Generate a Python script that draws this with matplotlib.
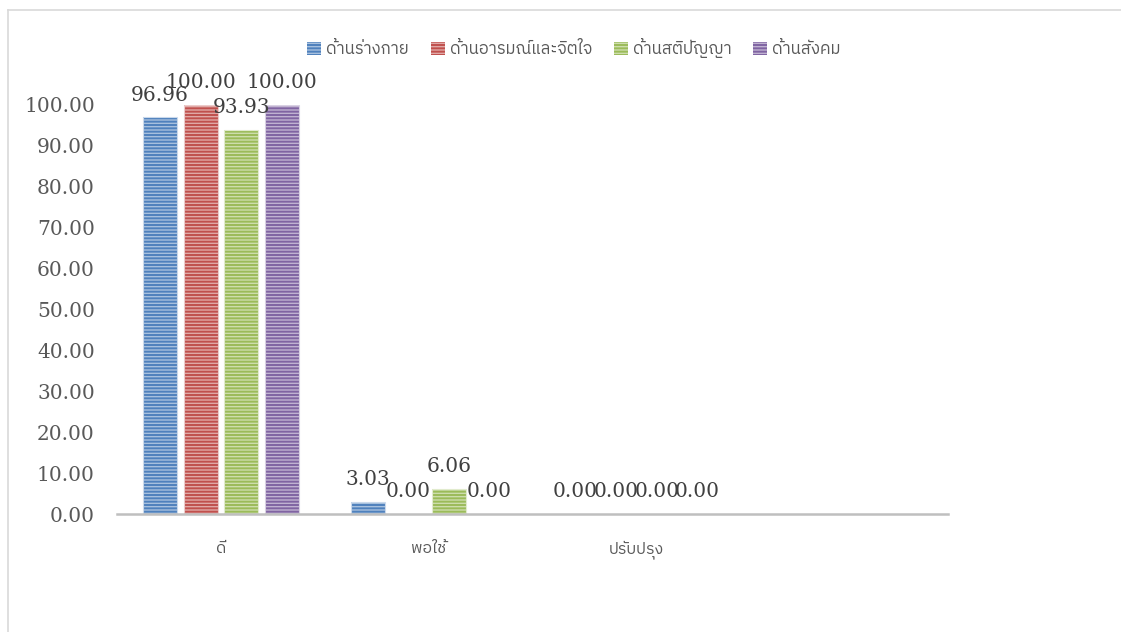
import matplotlib
matplotlib.use("Agg")
import matplotlib.pyplot as plt
from matplotlib import font_manager as fm
from matplotlib.patches import Patch
from matplotlib.lines import Line2D
import numpy as np

categories = ["ดี", "พอใช้", "ปรับปรุง", ""]
series_names = ["ด้านร่างกาย", "ด้านอารมณ์และจิตใจ", "ด้านสติปัญญา", "ด้านสังคม"]
values = {
    "ด้านร่างกาย": [96.96, 3.03, 0.00],
    "ด้านอารมณ์และจิตใจ": [100.00, 0.00, 0.00],
    "ด้านสติปัญญา": [93.93, 6.06, 0.00],
    "ด้านสังคม": [100.00, 0.00, 0.00],
}
yticks = [0, 10, 20, 30, 40, 50, 60, 70, 80, 90, 100]
colors = ["#4F81BD", "#C0504D", "#9BBB59", "#8064A2"]


def find_thai_font():
    try:
        from fontTools.ttLib import TTFont
    except Exception:
        TTFont = None
    seen = set()
    names = []
    for f in fm.fontManager.ttflist:
        if f.fname in seen:
            continue
        seen.add(f.fname)
        ok = False
        if TTFont is not None:
            try:
                tt = TTFont(f.fname, fontNumber=0, lazy=True)
                cmap = tt.getBestCmap()
                ok = cmap is not None and 0x0E14 in cmap and 0x0E49 in cmap
                tt.close()
            except Exception:
                ok = False
        else:
            ok = "thai" in f.name.lower()
        if ok:
            names.append(f.name)
    pref = [n for n in names if "sans" in n.lower()]
    if pref:
        return pref[0]
    return names[0] if names else None


thai = find_thai_font()
sans_family = ([thai] if thai else []) + ["DejaVu Sans"]

plt.rcParams["hatch.linewidth"] = 1.4

W, H = 1121, 632
fig = plt.figure(figsize=(W / 100, H / 100), dpi=100)
ax = fig.add_axes([117 / W, 1 - 514 / H, 831 / W, 409 / H])

x = np.arange(len(categories))
n = len(series_names)
step = 0.195
bw = 0.164
gray = "#595959"


def lighten(c, f):
    r, g, b = matplotlib.colors.to_rgb(c)
    return (r + (1 - r) * f, g + (1 - g) * f, b + (1 - b) * f)


for i, name in enumerate(series_names):
    vals = values[name]
    xs = x[: len(vals)] + (i - (n - 1) / 2) * step
    ax.bar(xs, vals, width=bw, color=lighten(colors[i], 0.5),
           edgecolor=colors[i], hatch="-----", linewidth=0, zorder=2)
    ax.bar(xs, vals, width=bw, facecolor="none",
           edgecolor=lighten(colors[i], 0.7), linewidth=0.8, zorder=3)
    for xv, v in zip(xs, vals):
        ax.annotate(f"{v:.2f}", (xv, v), xytext=(0, 16), textcoords="offset points",
                    ha="center", va="center", fontsize=14.5, family="DejaVu Serif",
                    color="#404040", zorder=5, annotation_clip=False)

ax.set_xlim(-0.5, 3.5)
ax.set_ylim(0, 100)
ax.set_yticks(yticks)
ax.set_yticklabels([f"{t:.2f}" for t in yticks], family="DejaVu Serif",
                   fontsize=14.5, color=gray)
ax.set_xticks(x)
ax.set_xticklabels(categories, family=sans_family, fontsize=11.5, color=gray)
ax.tick_params(axis="both", length=0)
ax.tick_params(axis="y", pad=16)
ax.tick_params(axis="x", pad=19)
for s in ["top", "right", "left"]:
    ax.spines[s].set_visible(False)
ax.spines["bottom"].set_color("#BFBFBF")
ax.spines["bottom"].set_linewidth(1.8)
ax.spines["bottom"].set_zorder(4)

handles = [Patch(facecolor=lighten(c, 0.5), edgecolor=c, hatch="-----", linewidth=0)
           for c in colors]
leg = fig.legend(handles, series_names, loc="center", bbox_to_anchor=(574 / W, 1 - 48 / H),
                 ncol=4, frameon=False, prop={"family": sans_family, "size": 12},
                 handlelength=0.85, handleheight=0.85, handletextpad=0.3, columnspacing=1.3)
for t in leg.get_texts():
    t.set_color(gray)

fig.add_artist(Line2D([7.5 / W, 7.5 / W], [0, 1 - 10 / H], color="#D9D9D9", lw=1.2,
                      transform=fig.transFigure))
fig.add_artist(Line2D([7.5 / W, 1], [1 - 10 / H, 1 - 10 / H], color="#D9D9D9", lw=1.2,
                      transform=fig.transFigure))

fig.savefig("out.png", dpi=100)
